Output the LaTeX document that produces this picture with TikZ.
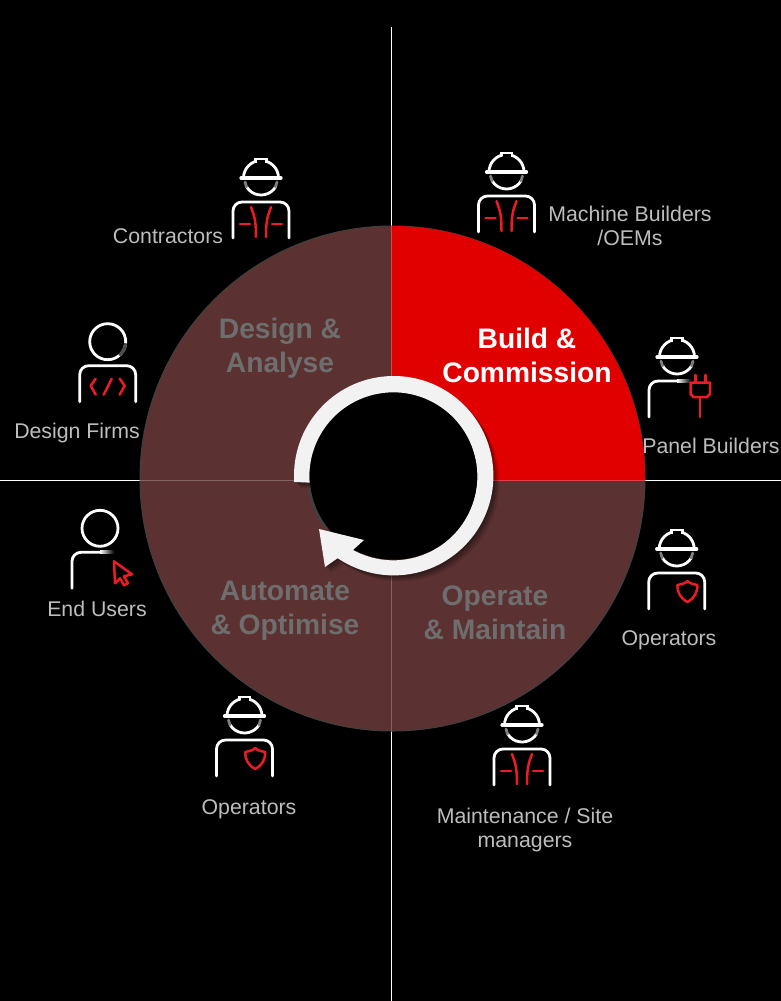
\documentclass[tikz,border=0pt]{standalone}
\usepackage{fontspec}
\setmainfont{Liberation Sans}
\definecolor{sectorbrown}{HTML}{5C3131}
\definecolor{sectorred}{HTML}{E00000}
\definecolor{sectortext}{HTML}{6E6E6E}
\definecolor{labelgrey}{HTML}{BDBDBD}
\definecolor{ringwhite}{HTML}{F2F2F2}
\definecolor{iconred}{HTML}{ED1C24}
\newcommand{\ringpath}{(176.4:99.7) arc[start angle=176.4, end angle=484.2, radius=99.7] -- (-68.7,91.3) -- (-74.7,53.3) -- (-29.7,64.3) -- (-40.7,74.3) arc[start angle=478.7, end angle=175.7, radius=84] -- cycle}
\tikzset{
	person/.style={draw=white, line width=2.8pt, line cap=round},
	redmark/.style={draw=iconred, line width=2.5pt, line cap=round, line join=round},
	who/.style={text=labelgrey, align=center, font=\fontsize{21.3}{24}\selectfont},
	phase/.style={text=sectortext, align=center, font=\fontsize{28.2}{34}\selectfont\bfseries},
	pics/hardhat/.style={code={
		\draw[person, line width=3.2pt] (-20,0) -- (20,0);
		\draw[person] (-17.5,0) arc[start angle=180, end angle=360, radius=17.5];
		\fill[black] (-4,-13) rectangle (4,-18);
		\draw[person, line cap=butt] (-5.5,-15) -- (-5.5,-19) -- (5.5,-19) -- (5.5,-15);
		\draw[person] (14.5,9) arc[start angle=32, end angle=148, radius=17];
		\draw[person, draw=gray] (16,4) -- (14.5,9);
		\draw[person, draw=gray] (-16,4) -- (-14.5,9);
	}},
	pics/barehead/.style={code={
		\draw[person] (0,0) circle[radius=18];
	}},
	pics/fullbody/.style={code={
		\draw[person, rounded corners=9pt] (-28,60) -- (-28,24) -- (28,24) -- (28,60);
	}},
	pics/halfbody/.style={code={
		\draw[person, rounded corners=9pt] (-28,60) -- (-28,24) -- (0,24);
		\shade[left color=white, right color=black] (0,22.6) rectangle (14,25.4);
	}},
	pics/vestmark/.style={code={
		\draw[redmark] (-10,29) .. controls (-8,36) and (-5,38) .. (-5,59);
		\draw[redmark] (10,29) .. controls (8,36) and (5,38) .. (5,59);
		\draw[redmark] (-21,46) -- (-11,46);
		\draw[redmark] (11,46) -- (21,46);
	}},
	pics/shieldmark/.style={code={
		\draw[redmark] (0,-10) .. controls (3,-7) and (6,-7) .. (10,-6) .. controls (10,2) and (7,7) .. (0,11) .. controls (-7,7) and (-10,2) .. (-10,-6) .. controls (-6,-7) and (-3,-7) .. (0,-10) -- cycle;
	}},
	pics/plugmark/.style={code={
		\draw[redmark] (13.5,25.5) -- (33,25.5) -- (33,37) -- (30,40) -- (16.5,40) -- (13.5,37) -- cycle;
		\draw[redmark] (18.3,18) -- (18.3,25.5);
		\draw[redmark] (28.3,18) -- (28.3,25.5);
		\draw[redmark] (23,40) -- (23,60);
	}},
	pics/codemark/.style={code={
		\draw[redmark] (-12,37) -- (-17,44) -- (-12,53);
		\draw[redmark] (4,37) -- (-4,53);
		\draw[redmark] (12,37) -- (17,44) -- (12,53);
		\draw[line width=3pt, draw=black!70!white] (5:18) arc[start angle=5, end angle=50, radius=18];
	}},
	pics/cursormark/.style={code={
		\draw[redmark] (14,33) -- (32,46) -- (24,48) -- (28,55) -- (24,57) -- (20,50) -- (15,55) -- cycle;
	}},
}

\begin{document}
\begin{tikzpicture}[x=1pt, y=-1pt]
	\useasboundingbox (0,0) rectangle (781,1001);
	\fill[black] (0,0) rectangle (781,1001);

	\coordinate (axisN) at (391,27);
	\coordinate (axisS) at (391,1001);
	\coordinate (axisW) at (0,480);
	\coordinate (axisE) at (781,480);
	\coordinate (hub) at (392.5,478.5);
	\coordinate (ringhub) at (393.7,475.7);

	\draw[white, line width=.9pt] (axisN) -- (axisS);
	\draw[white, line width=.9pt] (axisW) -- (axisE);

	% the four phases
	\draw[fill=sectorbrown, draw=black!75!white, line width=1pt] (hub) circle[radius=252.5];
	\begin{scope}
		\clip (391,0) rectangle (781,480);
		\fill[sectorred] (hub) circle[radius=252.5];
	\end{scope}
	\draw[white, opacity=.25, line width=.9pt] (391,480) -- (391,731);
	\draw[white, opacity=.25, line width=.9pt] (140,480) -- (391,480);
	\draw[white, opacity=.25, line width=.9pt] (391,480) -- (645,480);
	\draw[white, opacity=.25, line width=.9pt] (391,226) -- (391,480);

	\node[phase] (design) at (280,348) {Design \&\\Analyse};
	\node[phase, text=white] (build) at (527,355) {Build \&\\Commission};
	\node[phase] (operate) at (495,613) {Operate\\\& Maintain};
	\node[phase] (automate) at (285,611) {Automate\\\& Optimise};

	% ring with its arrow
	\begin{scope}[shift={(ringhub)}]
		\fill[black, opacity=.12, shift={(6,6)}] \ringpath;
		\fill[black, opacity=.18, shift={(4,4)}] \ringpath;
		\fill[black, opacity=.2, shift={(2,2)}] \ringpath;
		\fill[black] (0,0) circle[radius=84];
		\draw[black!75!white, line width=2.5pt] (172:85.5) arc[start angle=172, end angle=142, radius=85.5];
		\fill[ringwhite] \ringpath;
	\end{scope}

	% people round the ring
	\pic at (261,178) {hardhat};
	\pic at (261,178) {fullbody};
	\pic at (261,178) {vestmark};
	\node[who] (contractors) at (168,236) {Contractors};

	\pic at (506.5,172) {hardhat};
	\pic at (506.5,172) {fullbody};
	\pic at (506.5,172) {vestmark};
	\node[who] (builders) at (630,226) {Machine Builders\\/OEMs};

	\pic at (677,357) {hardhat};
	\pic at (677,357) {halfbody};
	\pic at (677,357) {plugmark};
	\node[who] (panel) at (711,446) {Panel Builders};

	\pic at (107.7,341.7) {barehead};
	\pic at (107.7,341.7) {fullbody};
	\pic at (107.7,341.7) {codemark};
	\node[who] (firms) at (77,432.5) {Design Firms};

	\pic at (100,528.3) {barehead};
	\pic at (100,528.3) {halfbody};
	\pic at (100,528.3) {cursormark};
	\node[who] (users) at (97,608.5) {End Users};

	\pic at (676.7,549) {hardhat};
	\pic at (676.7,549) {fullbody};
	\pic at (687.4,591) {shieldmark};
	\node[who] (opright) at (669,640) {Operators};

	\pic at (244.5,716) {hardhat};
	\pic at (244.5,716) {fullbody};
	\pic at (255.2,758) {shieldmark};
	\node[who] (opleft) at (249,809) {Operators};

	\pic at (522,725) {hardhat};
	\pic at (522,725) {fullbody};
	\pic at (522,725) {vestmark};
	\node[who] (site) at (525,830) {Maintenance / Site\\managers};
\end{tikzpicture}
\end{document}
